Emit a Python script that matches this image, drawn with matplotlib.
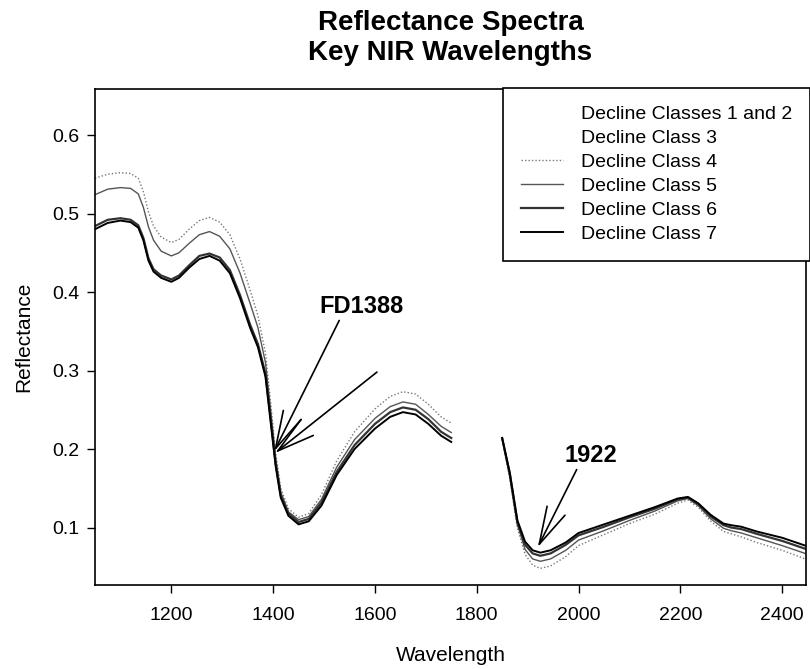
import matplotlib.pyplot as plt
import numpy as np

plt.rcParams['font.family'] = ['Liberation Sans', 'DejaVu Sans']

nan = np.nan
# wavelengths (nm); 1800 stands for the removed water band -> NaN breaks the line
wavelength = [1050, 1075, 1100, 1120, 1135, 1145, 1155, 1165, 1180, 1200, 1215, 1235,
              1255, 1275, 1295, 1315, 1335, 1355, 1370, 1385, 1395, 1405, 1415, 1430,
              1450, 1470, 1495, 1525, 1560, 1600, 1630, 1655, 1680, 1705, 1730, 1750,
              1800,
              1850, 1865, 1880, 1895, 1910, 1925, 1945, 1975, 2000, 2050, 2100, 2150,
              2195, 2215, 2235, 2260, 2285, 2300, 2320, 2350, 2400, 2450]

class_1_2 = [0.535, 0.541, 0.543, 0.542, 0.535, 0.518, 0.492, 0.475, 0.461, 0.455, 0.459, 0.471,
             0.482, 0.486, 0.480, 0.464, 0.433, 0.394, 0.363, 0.316, 0.255, 0.191, 0.147, 0.122,
             0.111, 0.116, 0.139, 0.181, 0.217, 0.245, 0.260, 0.266, 0.263, 0.250, 0.235, 0.227,
             nan,
             0.213, 0.164, 0.102, 0.070, 0.057, 0.053, 0.056, 0.067, 0.081, 0.094, 0.107, 0.119,
             0.133, 0.136, 0.127, 0.110, 0.097, 0.094, 0.091, 0.084, 0.074, 0.063]
class_3 = [0.505, 0.511, 0.513, 0.511, 0.504, 0.488, 0.462, 0.447, 0.437, 0.431, 0.436, 0.448,
           0.459, 0.463, 0.457, 0.441, 0.410, 0.371, 0.344, 0.303, 0.245, 0.185, 0.143, 0.119,
           0.108, 0.112, 0.134, 0.174, 0.208, 0.235, 0.250, 0.256, 0.253, 0.241, 0.225, 0.217,
           nan,
           0.213, 0.166, 0.106, 0.075, 0.063, 0.060, 0.063, 0.074, 0.087, 0.099, 0.111, 0.122,
           0.135, 0.137, 0.129, 0.112, 0.101, 0.098, 0.095, 0.089, 0.080, 0.069]
class_4 = [0.545, 0.550, 0.552, 0.551, 0.545, 0.528, 0.502, 0.484, 0.470, 0.463, 0.467, 0.480,
           0.491, 0.495, 0.489, 0.473, 0.442, 0.402, 0.370, 0.322, 0.260, 0.195, 0.150, 0.124,
           0.113, 0.118, 0.142, 0.185, 0.222, 0.251, 0.267, 0.273, 0.270, 0.257, 0.241, 0.233,
           nan,
           0.212, 0.162, 0.099, 0.066, 0.052, 0.048, 0.051, 0.063, 0.077, 0.091, 0.105, 0.117,
           0.131, 0.135, 0.126, 0.108, 0.095, 0.092, 0.088, 0.081, 0.071, 0.059]
class_5 = [0.524, 0.531, 0.533, 0.532, 0.525, 0.508, 0.483, 0.466, 0.452, 0.446, 0.450, 0.462,
           0.473, 0.477, 0.471, 0.455, 0.424, 0.385, 0.355, 0.310, 0.250, 0.188, 0.145, 0.120,
           0.110, 0.114, 0.136, 0.177, 0.212, 0.239, 0.254, 0.260, 0.257, 0.244, 0.229, 0.221,
           nan,
           0.213, 0.165, 0.104, 0.072, 0.060, 0.057, 0.060, 0.071, 0.084, 0.096, 0.109, 0.121,
           0.134, 0.137, 0.128, 0.111, 0.099, 0.096, 0.093, 0.087, 0.077, 0.066]
class_6 = [0.484, 0.492, 0.494, 0.492, 0.485, 0.469, 0.443, 0.429, 0.421, 0.416, 0.421, 0.434,
           0.446, 0.449, 0.444, 0.428, 0.396, 0.358, 0.334, 0.296, 0.240, 0.182, 0.141, 0.118,
           0.107, 0.111, 0.132, 0.171, 0.205, 0.232, 0.247, 0.253, 0.250, 0.238, 0.222, 0.214,
           nan,
           0.214, 0.168, 0.106, 0.078, 0.067, 0.064, 0.067, 0.078, 0.090, 0.101, 0.113, 0.124,
           0.136, 0.138, 0.130, 0.114, 0.103, 0.100, 0.098, 0.092, 0.083, 0.072]
class_7 = [0.480, 0.488, 0.491, 0.489, 0.482, 0.466, 0.440, 0.426, 0.418, 0.413, 0.418, 0.431,
           0.442, 0.446, 0.440, 0.424, 0.392, 0.354, 0.330, 0.292, 0.235, 0.178, 0.138, 0.115,
           0.104, 0.108, 0.128, 0.167, 0.200, 0.226, 0.241, 0.247, 0.244, 0.232, 0.217, 0.209,
           nan,
           0.214, 0.170, 0.109, 0.082, 0.071, 0.068, 0.071, 0.081, 0.093, 0.104, 0.115, 0.126,
           0.137, 0.139, 0.131, 0.116, 0.105, 0.103, 0.101, 0.095, 0.087, 0.076]

labels = ['Decline Classes 1 and 2', 'Decline Class 3', 'Decline Class 4',
          'Decline Class 5', 'Decline Class 6', 'Decline Class 7']

fig = plt.figure(figsize=(8.1, 6.69), dpi=100)
ax = fig.add_axes([95 / 810, 1 - 585 / 669, 711 / 810, 496 / 669])

# classes 1-3 did not print in the original (very light colours)
ax.plot(wavelength, class_1_2, color='white', lw=1, label=labels[0], zorder=1)
ax.plot(wavelength, class_3, color='white', lw=1, label=labels[1], zorder=1)
ax.plot(wavelength, class_4, color='#777777', lw=1, ls=(0, (1, 1.5)), label=labels[2], zorder=2)
ax.plot(wavelength, class_5, color='#555555', lw=1, label=labels[3], zorder=2)
ax.plot(wavelength, class_6, color='#333333', lw=1.6, label=labels[4], zorder=2)
ax.plot(wavelength, class_7, color='black', lw=1.4, label=labels[5], zorder=3)

ax.set_xlim(1050, 2447)
ax.set_ylim(0.0268, 0.6586)
ax.set_xticks([1200, 1400, 1600, 1800, 2000, 2200, 2400])
ax.set_yticks([0.1, 0.2, 0.3, 0.4, 0.5, 0.6])
ax.tick_params(labelsize=14, length=6, width=1)
ax.tick_params(axis='x', pad=10)
ax.tick_params(axis='y', pad=5)
for s in ax.spines.values():
    s.set_linewidth(1.2)

ax.set_xlabel('Wavelength', fontsize=15, labelpad=16)
ax.set_ylabel('Reflectance', fontsize=15, labelpad=14)
fig.suptitle('Reflectance Spectra\nKey NIR Wavelengths', fontsize=20, fontweight='bold',
             x=(95 + 806) / 2 / 810, y=0.985, va='top', linespacing=1.2)

arrow = dict(arrowstyle='->, head_length=1.5, head_width=0.4', color='black', lw=1.2,
             shrinkA=0, shrinkB=0, mutation_scale=18)
ax.annotate('FD1388', xy=(1402, 0.197), xytext=(1574, 0.382), fontsize=17, fontweight='bold',
            ha='center', va='center', arrowprops=dict(arrow, relpos=(0.25, 0)))
ax.annotate('', xy=(1404, 0.195), xytext=(1604, 0.298), arrowprops=arrow)
ax.annotate('1922', xy=(1920, 0.075), xytext=(2025, 0.192), fontsize=17, fontweight='bold',
            ha='center', va='center', arrowprops=dict(arrow, relpos=(0.25, 0)))

leg = ax.legend(loc='upper right', bbox_to_anchor=(1.0, 1 - 88 / 669),
                bbox_transform=fig.transFigure, fontsize=14, frameon=True, fancybox=False,
                edgecolor='black', framealpha=1, handlelength=2.15, handletextpad=0.95,
                labelspacing=0.33, borderpad=0.9, borderaxespad=0)
leg.get_frame().set_linewidth(1.2)

plt.savefig('out.png', dpi=100)
